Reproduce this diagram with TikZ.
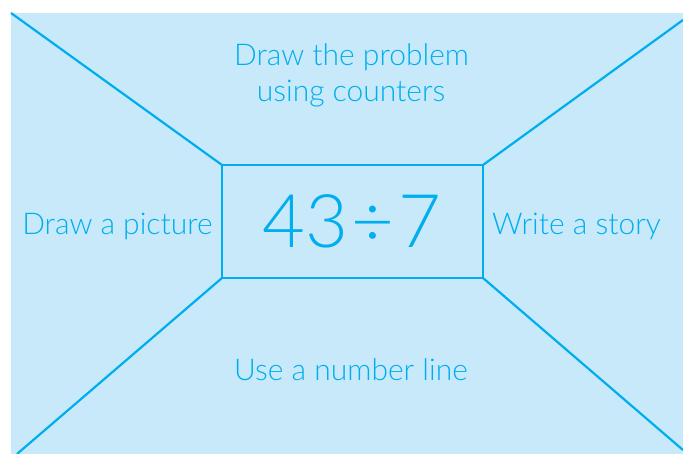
\documentclass[tikz,border=0pt]{standalone}
\usepackage{fontspec}
\setmainfont{Lato}[UprightFont=* Light]
\definecolor{bgblue}{HTML}{C7E9F9}
\definecolor{cyanline}{HTML}{00AEEF}
\begin{document}
\begin{tikzpicture}[x=1pt,y=-1pt,
  edge/.style={draw=cyanline,line width=2.2pt},
  lbl/.style={text=cyanline,font=\fontsize{30}{30}\selectfont,anchor=base,inner sep=0pt},
  big/.style={text=cyanline,font=\fontsize{74}{74}\selectfont,anchor=base,inner sep=0pt}]
\useasboundingbox (0,0) rectangle (683,454);
\fill[bgblue] (11,13) rectangle (683,454);
\coordinate (itl) at (222,165);
\coordinate (itr) at (483,165);
\coordinate (ibl) at (222,278);
\coordinate (ibr) at (483,278);
\coordinate (otl) at (11,13);
\coordinate (otr) at (683,20);
\coordinate (obl) at (17,454);
\coordinate (obr) at (683,450);
\draw[edge] (otl) -- (itl);
\draw[edge] (otr) -- (itr);
\draw[edge] (obl) -- (ibl);
\draw[edge] (obr) -- (ibr);
\draw[edge] (itl) rectangle (ibr);
\node[big] (expr) at (352,248) {43\hspace{4pt}÷\hspace{4pt}7};
\node[lbl] (top1) at (351.5,66) {Draw the problem};
\node[lbl] (top2) at (351,102) {using counters};
\node[lbl] (left) at (117.5,235) {Draw a picture};
\node[lbl] (right) at (576.5,235) {Write a story};
\node[lbl] (bottom) at (351,381) {Use a number line};
\end{tikzpicture}
\end{document}
